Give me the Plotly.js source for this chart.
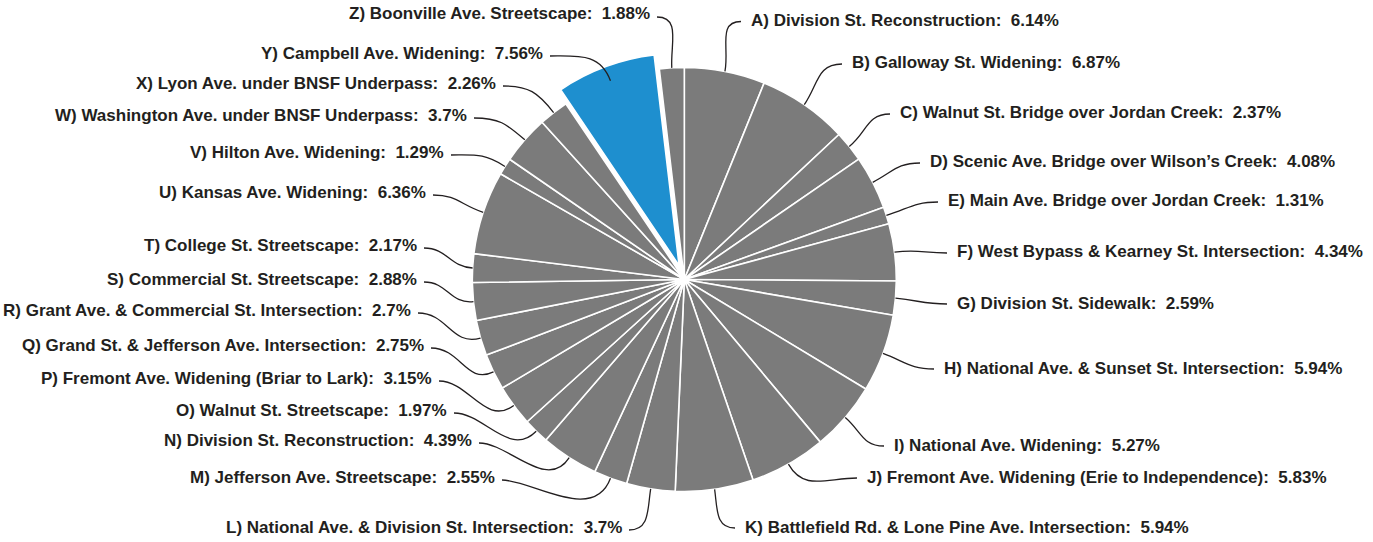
<!DOCTYPE html>
<html>
<head>
<meta charset="utf-8">
<script src="https://cdn.plot.ly/plotly-3.0.1.min.js"></script>
<style>
html,body{margin:0;padding:0;background:#ffffff;}
#chart{width:1373px;height:542px;}
</style>
</head>
<body>
<div id="chart"></div>
<script>
// ---- data ----
const letters = ['A','B','C','D','E','F','G','H','I','J','K','L','M','N','O','P','Q','R','S','T','U','V','W','X','Y','Z'];
const names = [
  'Division St. Reconstruction',
  'Galloway St. Widening',
  'Walnut St. Bridge over Jordan Creek',
  'Scenic Ave. Bridge over Wilson\u2019s Creek',
  'Main Ave. Bridge over Jordan Creek',
  'West Bypass & Kearney St. Intersection',
  'Division St. Sidewalk',
  'National Ave. & Sunset St. Intersection',
  'National Ave. Widening',
  'Fremont Ave. Widening (Erie to Independence)',
  'Battlefield Rd. & Lone Pine Ave. Intersection',
  'National Ave. & Division St. Intersection',
  'Jefferson Ave. Streetscape',
  'Division St. Reconstruction',
  'Walnut St. Streetscape',
  'Fremont Ave. Widening (Briar to Lark)',
  'Grand St. & Jefferson Ave. Intersection',
  'Grant Ave. & Commercial St. Intersection',
  'Commercial St. Streetscape',
  'College St. Streetscape',
  'Kansas Ave. Widening',
  'Hilton Ave. Widening',
  'Washington Ave. under BNSF Underpass',
  'Lyon Ave. under BNSF Underpass',
  'Campbell Ave. Widening',
  'Boonville Ave. Streetscape'
];
const values = [6.14, 6.87, 2.37, 4.08, 1.31, 4.34, 2.59, 5.94, 5.27, 5.83, 5.94, 3.7, 2.55, 4.39, 1.97, 3.15, 2.75, 2.7, 2.88, 2.17, 6.36, 1.29, 3.7, 2.26, 7.56, 1.88];
const highlight = 'Y';

// ---- label layout (pixel anchor of each label: left edge for right-side labels, right edge for left-side) ----
const labelX = [749, 850, 898, 928, 946, 955, 955, 942, 892, 865, 743, 624, 497, 474, 449, 434, 426, 413, 419, 419, 428, 446, 469, 498, 545, 652];
const labelY = [20.5, 63, 113, 162, 201, 252, 303, 368, 445, 477, 527, 527, 477, 440, 410, 378, 345, 310, 279, 245, 192, 152, 115, 83, 53, 14];

// ---- geometry / style ----
const W = 1373, H = 542;
const CX = 684.3, CY = 279.5, R = 212, PULL = 0.07;
const GREY = '#7b7b7b', BLUE = '#1e8fcf', INK = '#231f20';
const half = R * (1 + PULL);
const px = x => x / W, py = y => 1 - y / H;

const total = values.reduce((a, b) => a + b, 0);
const shapes = [], annotations = [];
let cum = 0;
values.forEach((v, i) => {
  const mid = (cum + v / 2) / total * 2 * Math.PI;
  cum += v;
  const sx = Math.sin(mid), sy = -Math.cos(mid);
  const right = mid < Math.PI;
  const p0 = [CX + sx * R, CY + sy * R];
  const p3 = right ? [labelX[i] - 8, labelY[i] + 1] : [labelX[i] + 5, labelY[i] + 3];
  const dist = Math.hypot(p3[0] - p0[0], p3[1] - p0[1]);
  const k1 = dist * 0.45, k2 = Math.min(dist * 0.45, 30);
  const c1 = [p0[0] + sx * k1, p0[1] + sy * k1];
  const c2 = [p3[0] + (right ? -k2 : k2), p3[1]];
  const f = p => px(p[0]).toFixed(5) + ',' + py(p[1]).toFixed(5);
  shapes.push({
    type: 'path', xref: 'paper', yref: 'paper',
    path: 'M' + f(p0) + ' C' + f(c1) + ' ' + f(c2) + ' ' + f(p3),
    line: {color: INK, width: 1.3}
  });
  const txt = letters[i] + ') ' + names[i].replace(/&/g, '&amp;') + ':\u00a0\u00a0' + v + '%';
  annotations.push({
    xref: 'paper', yref: 'paper', x: px(labelX[i]), y: py(labelY[i]),
    xanchor: right ? 'left' : 'right', yanchor: 'middle',
    text: '<b>' + txt + '</b>', showarrow: false,
    font: {family: 'Liberation Sans, Arial, sans-serif', size: 17, color: INK}
  });
});

const trace = {
  type: 'pie',
  labels: letters,
  values: values,
  sort: false,
  direction: 'clockwise',
  rotation: 0,
  textinfo: 'none',
  hoverinfo: 'skip',
  showlegend: false,
  pull: letters.map(l => l === highlight ? PULL : 0),
  marker: {
    colors: letters.map(l => l === highlight ? BLUE : GREY),
    line: {color: '#ffffff', width: 1.6}
  },
  domain: {x: [px(CX - half), px(CX + half)], y: [py(CY + half), py(CY - half)]}
};

Plotly.newPlot('chart', [trace], {
  width: W, height: H,
  margin: {l: 0, r: 0, t: 0, b: 0},
  paper_bgcolor: '#ffffff', plot_bgcolor: '#ffffff',
  showlegend: false,
  shapes: shapes,
  annotations: annotations
}, {displayModeBar: false, staticPlot: true});
</script>
</body>
</html>
